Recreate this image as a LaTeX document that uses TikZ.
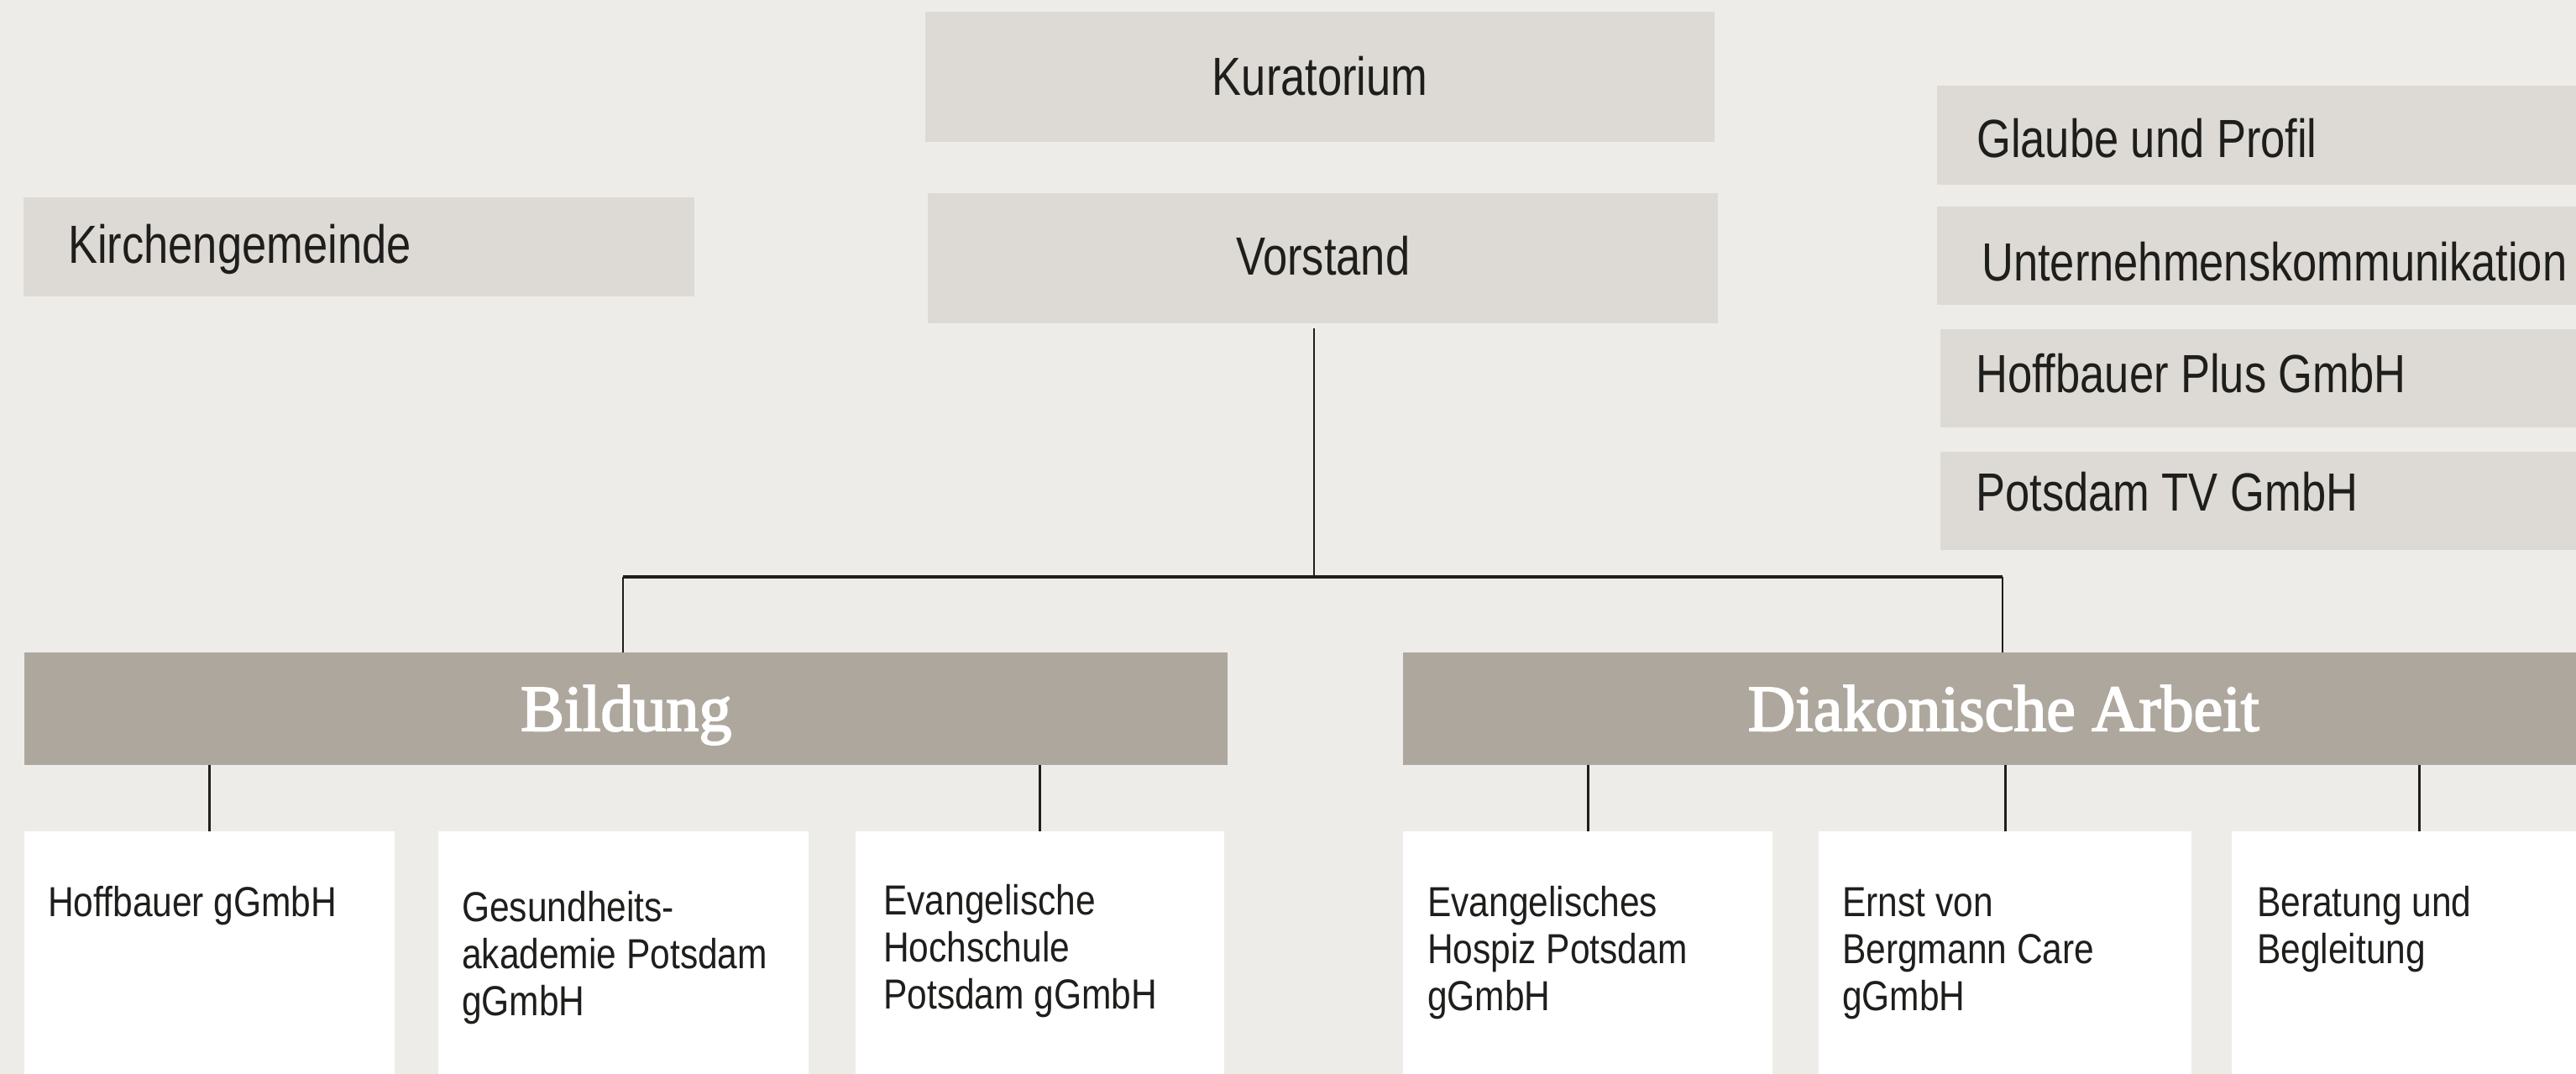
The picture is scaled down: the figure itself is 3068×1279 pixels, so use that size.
\documentclass[tikz,border=0pt]{standalone}
\usepackage{fontspec}
\newfontfamily\condsans{Liberation Sans}[FakeStretch=0.82]
\newfontfamily\smallsans{Liberation Sans}[FakeStretch=0.85]
\newfontfamily\headserif{Liberation Serif}[FakeBold=2.5]
\definecolor{bg}{HTML}{EDECE9}
\definecolor{boxgray}{HTML}{DDDAD5}
\definecolor{darkbox}{HTML}{AEA79D}
\definecolor{ink}{HTML}{1E1E1C}
\begin{document}
\begin{tikzpicture}[x=1pt,y=-1pt,
  lightbox/.style={fill=boxgray, inner sep=0pt, anchor=north west, text=ink,
    font=\condsans\fontsize{64}{70}\selectfont},
  leftbox/.style={lightbox, align=left, minimum height=117pt,
    execute at begin node={\spaceskip=0pt\xspaceskip=0pt}},
  headbox/.style={fill=darkbox, inner sep=0pt, anchor=north west, text=white,
    minimum height=134pt, text height=93pt, text depth=41pt,
    font=\headserif\fontsize{78}{80}\selectfont},
  wbox/.style={fill=white, inner ysep=0pt, anchor=north west, align=left, text=ink,
    font=\smallsans\fontsize{50}{56}\selectfont,
    execute at begin node={\spaceskip=0pt\xspaceskip=0pt}},
  vline/.style={draw=ink, line width=2.6pt},
  hline/.style={draw=ink, line width=3.4pt}]
\useasboundingbox (0,0) rectangle (3068,1279);
\clip (0,0) rectangle (3068,1279);
\fill[bg] (0,0) rectangle (3068,1279);

% top column
\node[lightbox, minimum width=940pt, text height=99pt, text depth=56pt] (kur) at (1102,14) {Kuratorium};
\node[lightbox, minimum width=941pt, text height=97pt, text depth=58pt] (vor) at (1105,230) {Vorstand};

% left
\node[leftbox, inner xsep=53pt, text width=693pt, text height=78pt, text depth=40pt] (kir) at (28,235) {Kirchengemeinde};

% right column
\node[leftbox, inner xsep=47pt, text width=806pt, text height=85pt, text depth=33pt] (gla) at (2307,102) {Glaube und Profil};
\node[leftbox, inner xsep=53pt, text width=794pt, text height=88pt, text depth=29pt] (unt) at (2307,246) {Unternehmenskommunikation};
\node[leftbox, inner xsep=42pt, text width=816pt, text height=75pt, text depth=42pt] (hpl) at (2311,392) {Hoffbauer Plus GmbH};
\node[leftbox, inner xsep=42pt, text width=816pt, text height=70pt, text depth=47pt] (ptv) at (2311,538) {Potsdam TV GmbH};

% headers
\node[headbox, minimum width=1433pt] (bil) at (29,777) {Bildung};
\node[headbox, minimum width=1430pt] (dia) at (1671,777) {Diakonische Arbeit};

% white boxes
\node[wbox, inner xsep=28pt, text width=385pt, text height=101pt, text depth=209pt] (hg) at (29,990) {Hoffbauer gGmbH};
\node[wbox, inner xsep=28pt, text width=385pt, text height=107pt, text depth=203pt] (ges) at (522,990) {Gesundheits-\\akademie Potsdam\\gGmbH};
\node[wbox, inner xsep=33pt, text width=373pt, text height=99pt, text depth=211pt] (evh) at (1019,990) {Evangelische\\Hochschule\\Potsdam gGmbH};
\node[wbox, inner xsep=29pt, text width=382pt, text height=101pt, text depth=209pt] (hos) at (1671,990) {Evangelisches\\Hospiz Potsdam\\gGmbH};
\node[wbox, inner xsep=28pt, text width=388pt, text height=101pt, text depth=209pt] (ebc) at (2166,990) {Ernst von\\Bergmann Care\\gGmbH};
\node[wbox, inner xsep=30pt, text width=387pt, text height=101pt, text depth=209pt] (ber) at (2658,990) {Beratung und\\Begleitung};

% connectors
\coordinate (j) at (1565,687);
\coordinate (jl) at (742,687);
\coordinate (jr) at (2385,687);
\coordinate (vs) at ([yshift=-6pt]vor.south);
\draw[vline] (vs -| j) -- (j);
\draw[hline] (jl) -- (jr);
\draw[vline] (jl) -- (jl |- bil.north);
\draw[vline] (jr) -- (jr |- dia.north);
\draw[vline] (hg.north |- bil.south) -- (hg.north);
\draw[vline] (evh.north |- bil.south) -- (evh.north);
\draw[vline] (hos.north |- dia.south) -- (hos.north);
\draw[vline] (ebc.north |- dia.south) -- (ebc.north);
\draw[vline] (ber.north |- dia.south) -- (ber.north);
\end{tikzpicture}
\end{document}
